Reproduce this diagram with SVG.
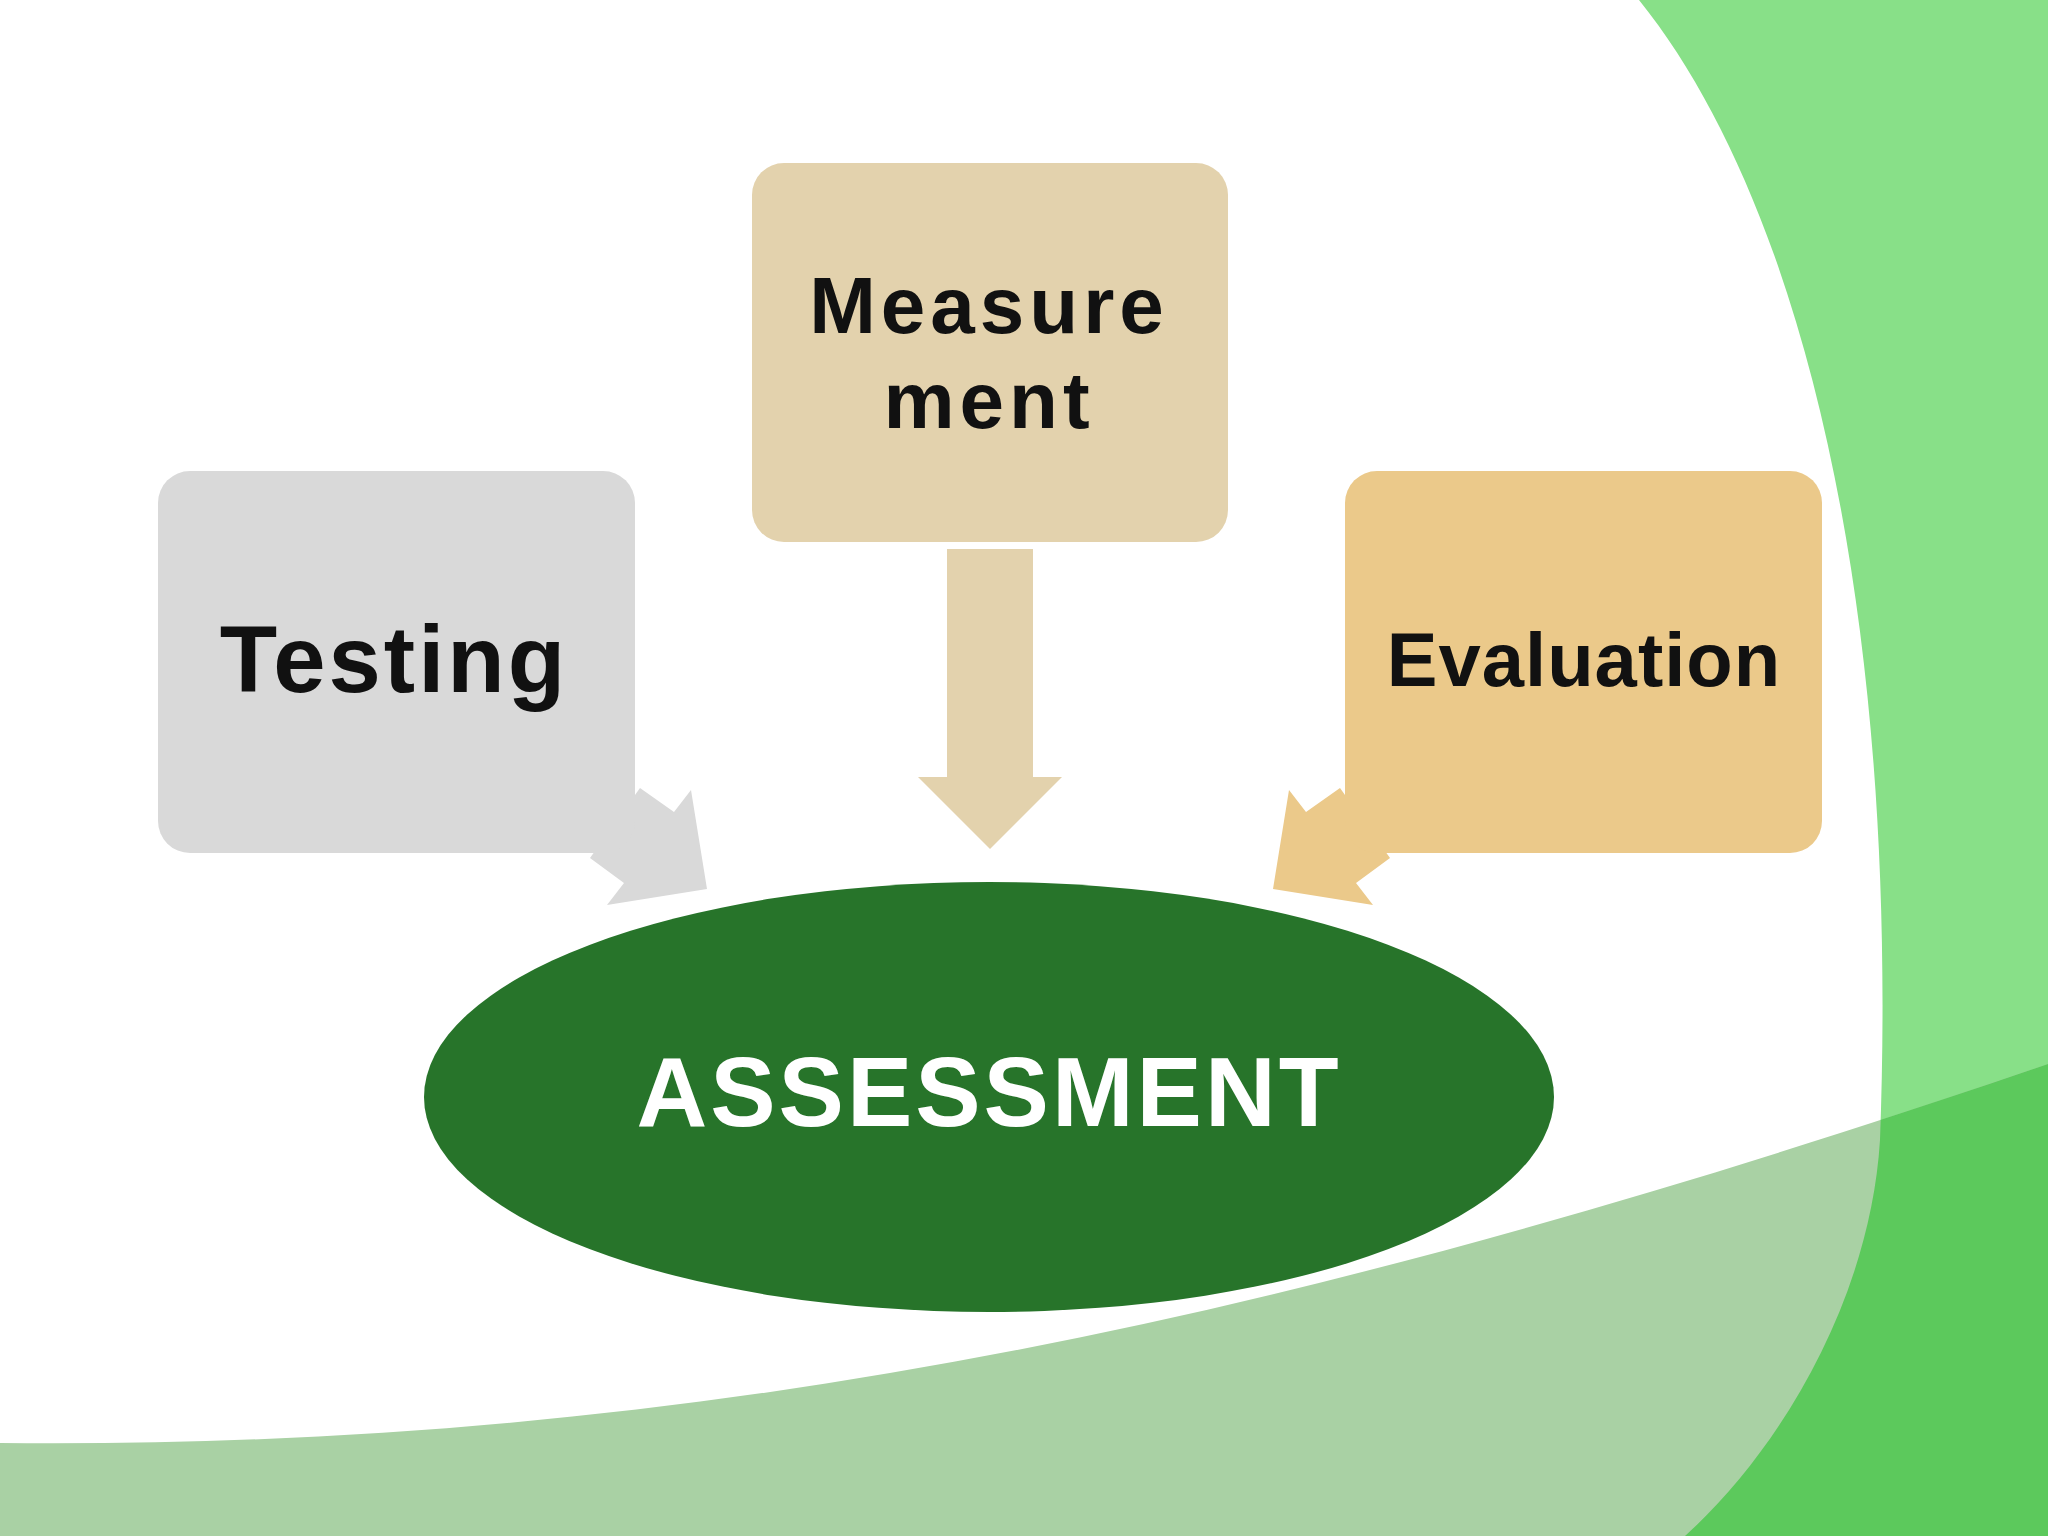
<svg xmlns="http://www.w3.org/2000/svg" width="2048" height="1536" viewBox="0 0 2048 1536">
<style>
.t{font-family:"Liberation Sans",Arial,sans-serif;font-weight:bold;text-anchor:middle;fill:#111}
</style>
<defs>
<clipPath id="rc"><path d="M1639,0 C1800,200 1900,600 1880,1140 C1870,1300 1780,1450 1685,1536 L2048,1536 L2048,0 Z"/></clipPath>
</defs>
<rect width="2048" height="1536" fill="#ffffff"/>
<g id="background">
<path d="M1639,0 C1800,200 1900,600 1880,1140 C1870,1300 1780,1450 1685,1536 L2048,1536 L2048,0 Z" fill="#88e088"/>
<path d="M0,1443 C700,1450 1300,1320 2048,1064 L2048,1536 L0,1536 Z" fill="#a9d1a4"/>
<path d="M0,1443 C700,1450 1300,1320 2048,1064 L2048,1536 L0,1536 Z" fill="#5cc95c" clip-path="url(#rc)"/>
</g>
<g id="connectors">
<polygon points="640,788 674,812 691,790 707,889 607,905 624,883 590,858" fill="#d9d9d9"/>
<polygon points="1340,788 1306,812 1289,790 1273,889 1373,905 1356,883 1390,858" fill="#ebc98a"/>
<polygon points="947,549 1033,549 1033,777 1062,777 990,849 918,777 947,777" fill="#e3d2ad"/>
</g>
<g id="testing">
<rect x="158" y="471" width="477" height="382" rx="32" fill="#d9d9d9"/>
<text class="t" x="394" y="692" font-size="94" letter-spacing="3">Testing</text>
</g>
<g id="measurement">
<rect x="752" y="163" width="476" height="379" rx="32" fill="#e3d2ad"/>
<text class="t" x="989" y="333" font-size="80" letter-spacing="5">Measure</text>
<text class="t" x="989" y="428" font-size="80" letter-spacing="5">ment</text>
</g>
<g id="evaluation">
<rect x="1345" y="471" width="477" height="382" rx="32" fill="#ebc98a"/>
<text class="t" x="1584" y="686" font-size="76" letter-spacing="1">Evaluation</text>
</g>
<g id="assessment">
<ellipse cx="989" cy="1097" rx="565" ry="215" fill="#27742a"/>
<text class="t" x="989" y="1126" font-size="98" letter-spacing="3" style="fill:#ffffff">ASSESSMENT</text>
</g>
</svg>
